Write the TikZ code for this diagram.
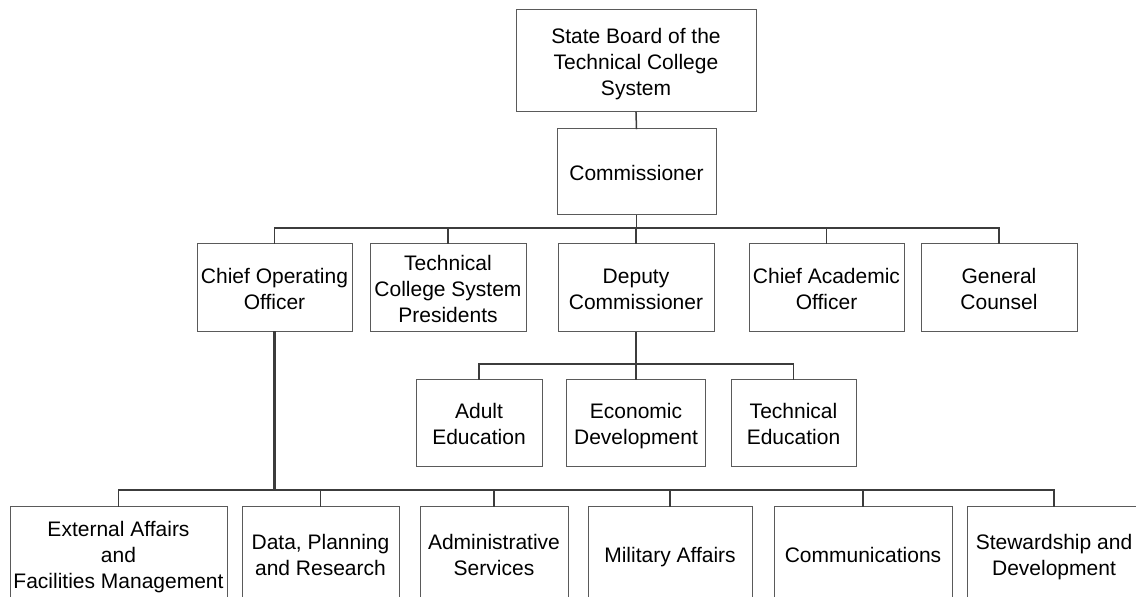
\documentclass[tikz,border=0pt]{standalone}
\usepackage{fontspec}
\setmainfont{Liberation Sans}
\definecolor{boxgray}{HTML}{5A5A5A}
\definecolor{linegray}{HTML}{3C3C3C}
\newcommand\topstrut{\rule{0pt}{12pt}}
\begin{document}
\begin{tikzpicture}[
  x=0.5pt,
  y=-0.5pt,
  line cap=rect,
  unit/.style={
    draw=boxgray,
    line width=0.5pt,
    inner sep=0pt,
    align=center,
    font=\fontsize{10.5}{13}\selectfont,
    execute at end node=\rule[-3.9pt]{0pt}{3.9pt}
  },
  link/.style={draw=linegray, line width=0.75pt},
  mainlink/.style={draw=linegray, line width=1.3pt}
]
  \useasboundingbox (0,0) rectangle (1136,597);

  % Руководство
  \node[unit, minimum width=120pt, minimum height=51pt]
    (board) at (636,61) {\topstrut State Board of the\\Technical College\\System};
  \node[unit, minimum width=79.5pt, minimum height=43pt]
    (comm) at (636.5,172) {\topstrut Commissioner};

  % Второй уровень
  \node[unit, minimum width=77.5pt, minimum height=44pt]
    (coo) at (274.5,288) {\topstrut Chief Operating\\Officer};
  \node[unit, minimum width=78pt, minimum height=44pt]
    (tcs) at (448,288) {\topstrut Technical\\College System\\Presidents};
  \node[unit, minimum width=78pt, minimum height=44pt]
    (dep) at (636,288) {\topstrut Deputy\\Commissioner};
  \node[unit, minimum width=77.5pt, minimum height=44pt]
    (cao) at (826.5,288) {\topstrut Chief Academic\\Officer};
  \node[unit, minimum width=78pt, minimum height=44pt]
    (gc) at (999,288) {\topstrut General\\Counsel};

  % Подразделения заместителя
  \node[unit, minimum width=63pt, minimum height=43.5pt]
    (adult) at (479,423.5) {\topstrut Adult\\Education};
  \node[unit, minimum width=69.5pt, minimum height=43.5pt]
    (econ) at (636,423.5) {\topstrut Economic\\Development};
  \node[unit, minimum width=62.5pt, minimum height=43.5pt]
    (techedu) at (793.5,423.5) {\topstrut Technical\\Education};

  % Подразделения операционного директора
  \node[unit, minimum width=108.5pt, minimum height=47pt]
    (ext) at (118.5,554) {\topstrut External Affairs\\and\\Facilities Management};
  \node[unit, minimum width=78.5pt, minimum height=47pt]
    (data) at (320.5,554) {\topstrut Data, Planning\\and Research};
  \node[unit, minimum width=74pt, minimum height=47pt]
    (admin) at (494,554) {\topstrut Administrative\\Services};
  \node[unit, minimum width=82pt, minimum height=47pt]
    (mil) at (670,554) {\topstrut Military Affairs};
  \node[unit, minimum width=89pt, minimum height=47pt]
    (comms) at (863,554) {\topstrut Communications};
  \node[unit, minimum width=87pt, minimum height=47pt]
    (stew) at (1054,554) {\topstrut Stewardship and\\Development};

  % Шины связей
  \coordinate (topbus) at (636.5,228);
  \coordinate (depbus) at (636,364);
  \coordinate (coobus) at (274.5,490);

  \draw[link] (board.south) -- (comm.north);
  \draw[link] (comm.south) -- (topbus);
  \foreach \n in {coo,tcs,dep,cao,gc}
    \draw[link] (\n.north) |- (topbus);

  \draw[link] (dep.south) -- (depbus);
  \foreach \n in {adult,econ,techedu}
    \draw[link] (\n.north) |- (depbus);

  \foreach \n in {ext,data,admin,mil,comms,stew}
    \draw[link] (\n.north) |- (coobus);
  \draw[mainlink] (coo.south) -- (coobus) -- (coobus -| comms.north);
\end{tikzpicture}
\end{document}
